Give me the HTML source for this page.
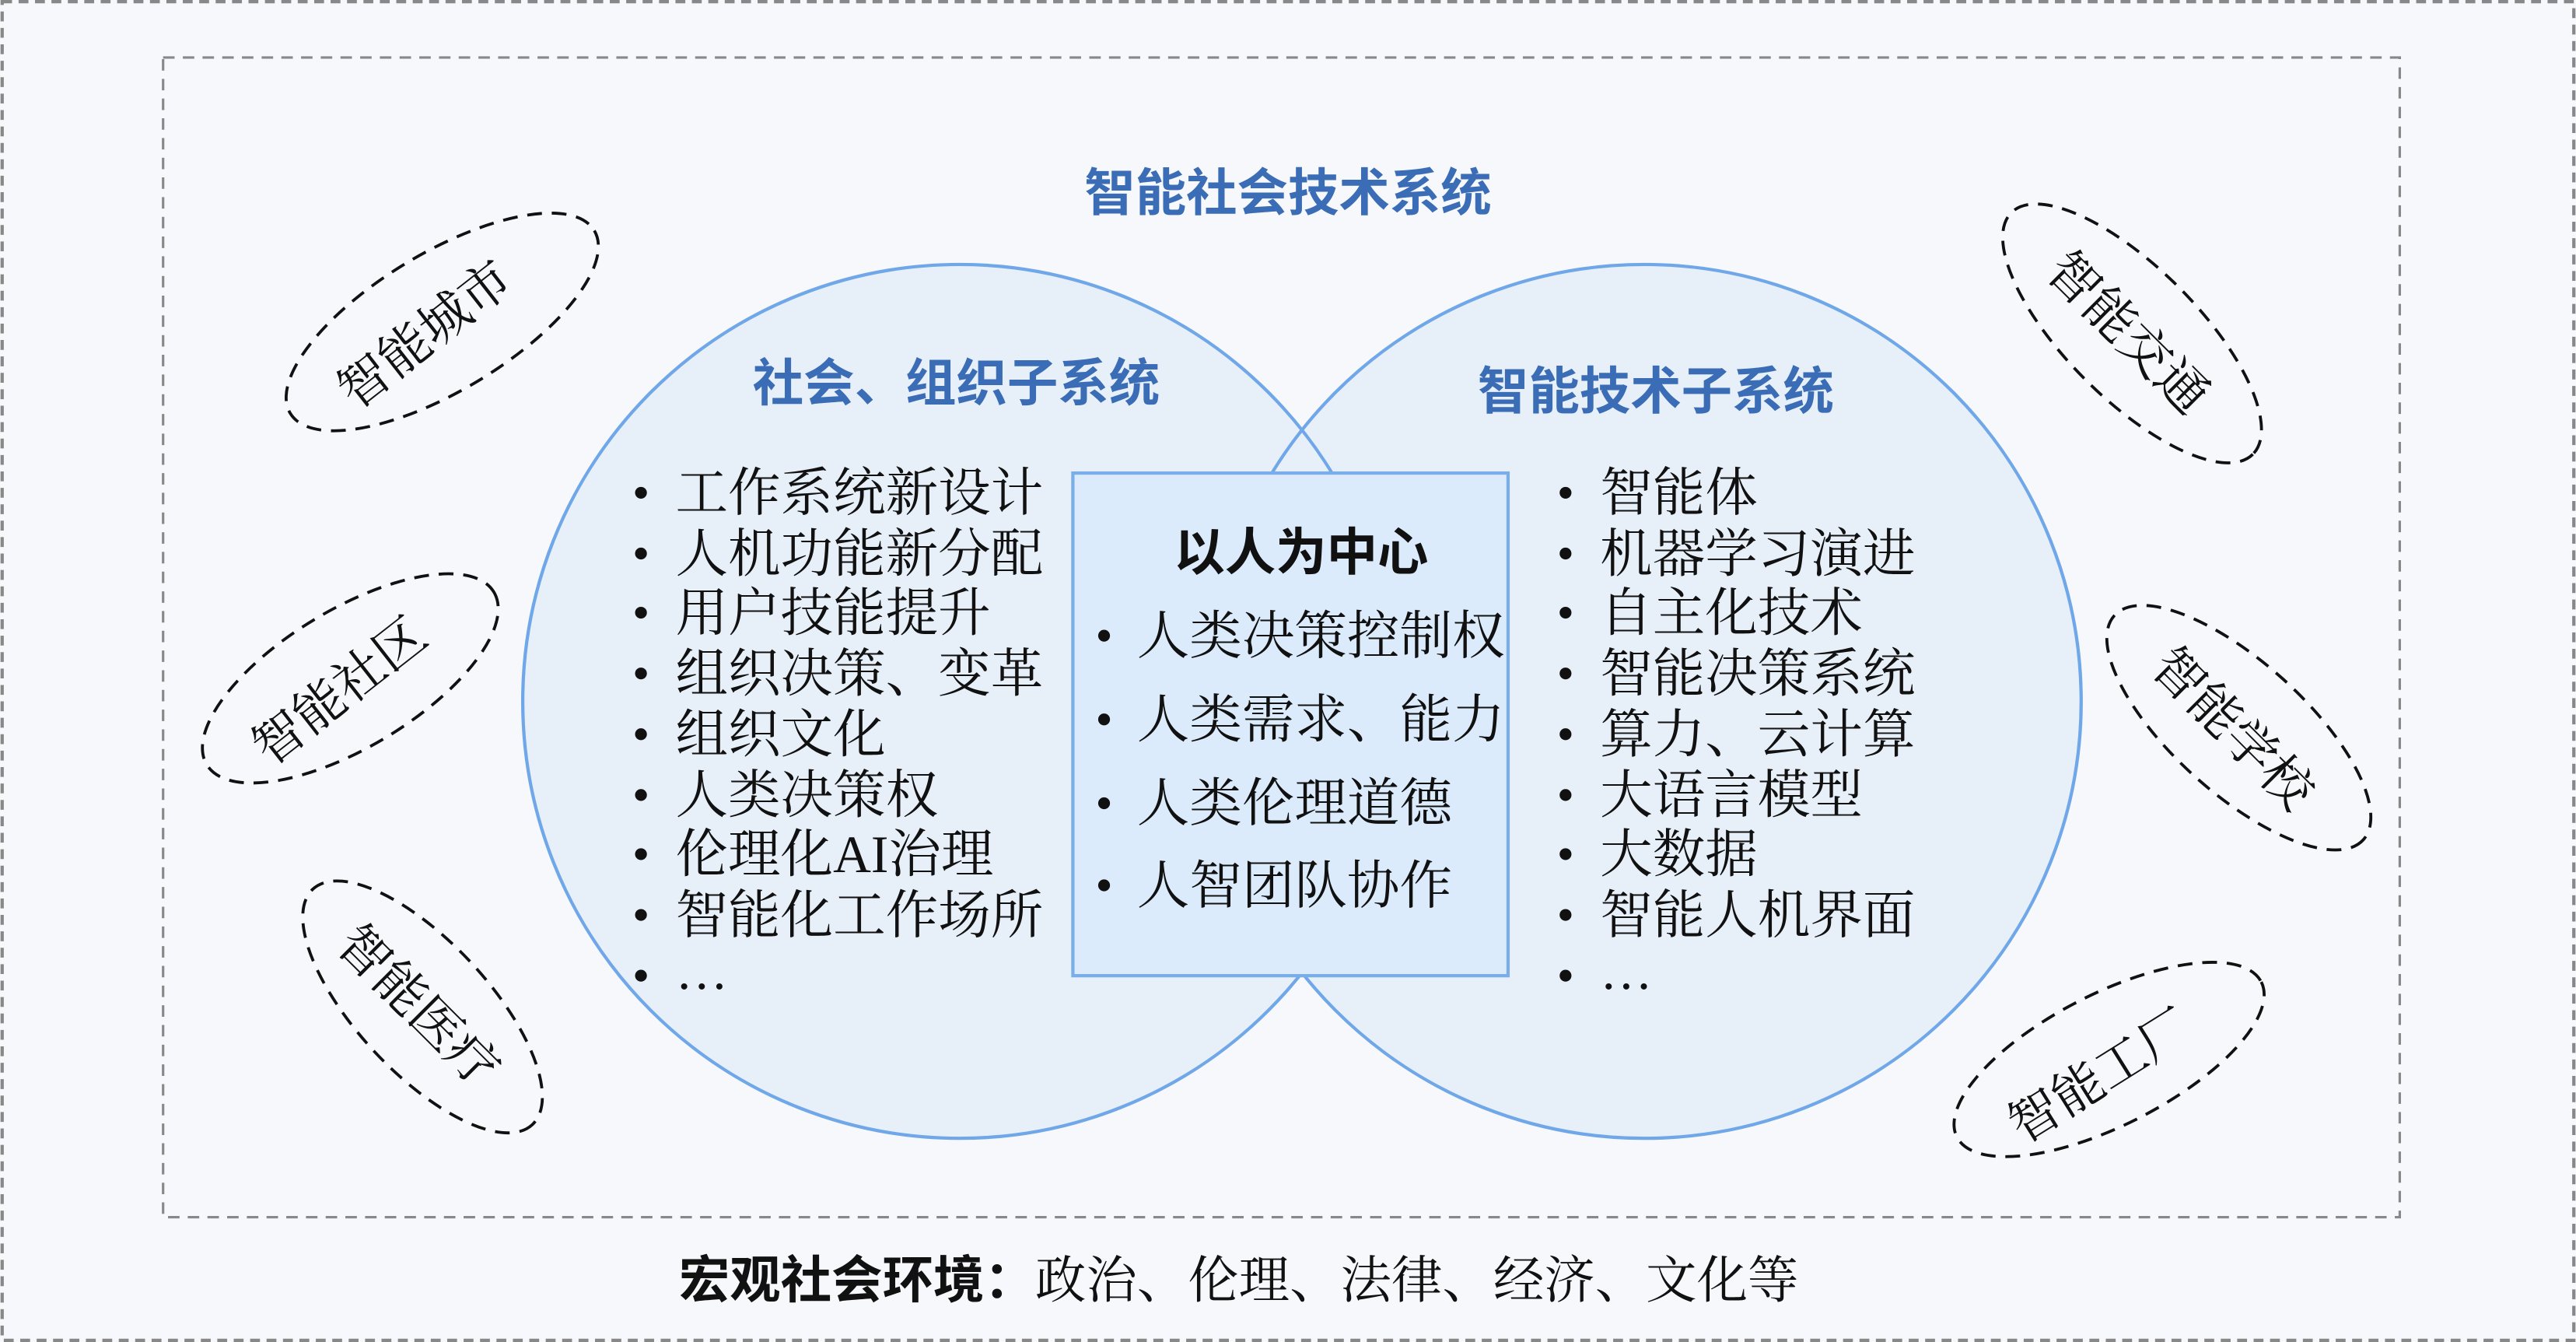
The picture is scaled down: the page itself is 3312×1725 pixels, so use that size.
<!DOCTYPE html>
<html><head><meta charset="utf-8"><style>
html,body{margin:0;padding:0;background:#f6f8fc;}
svg{display:block}
text{font-family:"Liberation Serif","Noto Serif CJK SC",serif;}
.b{font-family:"Liberation Sans","Noto Sans CJK SC",sans-serif;font-weight:bold;}
</style></head><body>
<svg width="3312" height="1725" viewBox="0 0 1568 817" xmlns="http://www.w3.org/2000/svg">
<rect x="0" y="0" width="1568" height="817" fill="#f6f8fc"/>
<rect x="1" y="1" width="1566" height="815" fill="none" stroke="#888" stroke-width="2" stroke-dasharray="6,4"/>
<rect x="99" y="35" width="1362" height="706" fill="none" stroke="#888" stroke-width="1.5" stroke-dasharray="7,5"/>
<text x="784" y="128" text-anchor="middle" class="b" font-size="31" fill="#3a6db5">智能社会技术系统</text>
<circle cx="584" cy="427" r="266" fill="#e7eff9"/>
<circle cx="1001" cy="427" r="266" fill="#e7eff9"/>
<circle cx="584" cy="427" r="266" fill="none" stroke="#6fa7e8" stroke-width="2"/>
<circle cx="1001" cy="427" r="266" fill="none" stroke="#6fa7e8" stroke-width="2"/>
<text x="582" y="244" text-anchor="middle" class="b" font-size="31" fill="#3a6db5">社会、组织子系统</text>
<text x="1008" y="249" text-anchor="middle" class="b" font-size="31" fill="#3a6db5">智能技术子系统</text>
<rect x="653" y="288" width="265" height="306" fill="#dbebfb" stroke="#7aaee8" stroke-width="2"/>
<g fill="#111">
<circle cx="390" cy="300" r="3.6"/><circle cx="390" cy="337" r="3.6"/><circle cx="390" cy="373" r="3.6"/><circle cx="390" cy="410" r="3.6"/><circle cx="390" cy="447" r="3.6"/><circle cx="390" cy="484" r="3.6"/><circle cx="390" cy="520" r="3.6"/><circle cx="390" cy="557" r="3.6"/><circle cx="390" cy="594" r="3.6"/>
<circle cx="953" cy="300" r="3.6"/><circle cx="953" cy="337" r="3.6"/><circle cx="953" cy="373" r="3.6"/><circle cx="953" cy="410" r="3.6"/><circle cx="953" cy="447" r="3.6"/><circle cx="953" cy="484" r="3.6"/><circle cx="953" cy="520" r="3.6"/><circle cx="953" cy="557" r="3.6"/><circle cx="953" cy="594" r="3.6"/>
<circle cx="672" cy="387" r="3.6"/><circle cx="672" cy="438" r="3.6"/><circle cx="672" cy="489" r="3.6"/><circle cx="672" cy="539" r="3.6"/>
</g>
<g font-size="32" fill="#111">
<text x="411" y="311">工作系统新设计</text>
<text x="411" y="348">人机功能新分配</text>
<text x="411" y="384">用户技能提升</text>
<text x="411" y="421">组织决策、变革</text>
<text x="411" y="458">组织文化</text>
<text x="411" y="495">人类决策权</text>
<text x="411" y="531">伦理化AI治理</text>
<text x="411" y="568">智能化工作场所</text>
<text x="411" y="602">…</text>
<text x="974" y="311">智能体</text>
<text x="974" y="348">机器学习演进</text>
<text x="974" y="384">自主化技术</text>
<text x="974" y="421">智能决策系统</text>
<text x="974" y="458">算力、云计算</text>
<text x="974" y="495">大语言模型</text>
<text x="974" y="531">大数据</text>
<text x="974" y="568">智能人机界面</text>
<text x="974" y="602">…</text>
</g>
<text x="792" y="347" text-anchor="middle" class="b" font-size="31" fill="#111">以人为中心</text>
<g font-size="32" fill="#111">
<text x="692" y="398">人类决策控制权</text>
<text x="692" y="449">人类需求、能力</text>
<text x="692" y="500">人类伦理道德</text>
<text x="692" y="550">人智团队协作</text>
</g>
<g fill="none" stroke="#111" stroke-width="1.8" stroke-dasharray="9,6">
<ellipse cx="0" cy="0" rx="108" ry="42" transform="translate(269,196) rotate(-31)"/>
<ellipse cx="0" cy="0" rx="102" ry="42" transform="translate(213,413) rotate(-31)"/>
<ellipse cx="0" cy="0" rx="98" ry="40" transform="translate(257,613) rotate(47)"/>
<ellipse cx="0" cy="0" rx="104" ry="40" transform="translate(1298,203) rotate(45)"/>
<ellipse cx="0" cy="0" rx="102" ry="40" transform="translate(1363,443) rotate(42)"/>
<ellipse cx="0" cy="0" rx="104" ry="40" transform="translate(1284,645) rotate(-27)"/>
</g>
<g font-size="31" fill="#111" text-anchor="middle">
<text transform="translate(265,212) rotate(-38)">智能城市</text>
<text transform="translate(213,429) rotate(-38)">智能社区</text>
<text transform="translate(247,620) rotate(45)">智能医疗</text>
<text transform="translate(1288,210) rotate(45)">智能交通</text>
<text transform="translate(1352,451) rotate(45)">智能学校</text>
<text transform="translate(1284,664) rotate(-32)">智能工厂</text>
</g>
<text x="754" y="790" text-anchor="middle" font-size="31" fill="#111"><tspan class="b">宏观社会环境：</tspan>政治、伦理、法律、经济、文化等</text>
</svg>
</body></html>
